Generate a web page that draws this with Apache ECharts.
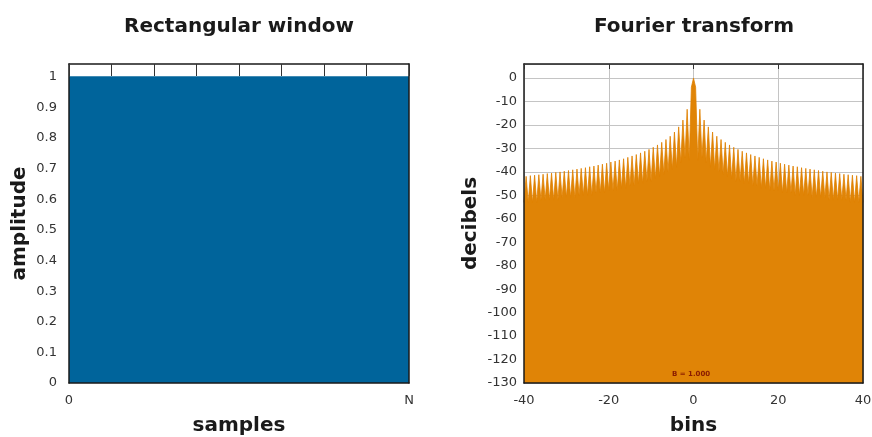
<!DOCTYPE html>
<html>
<head>
<meta charset="utf-8">
<script src="https://cdn.jsdelivr.net/npm/echarts@6/dist/echarts.min.js"></script>
<style>html,body{margin:0;padding:0;background:#fff}#c{width:872px;height:437px}</style>
</head>
<body>
<div id="c"></div>
<script>
// ---- Data ----
const windowTitle = 'Rectangular window';
const fourierTitle = 'Fourier transform';
const sampleX = [0, 1, 2, 3, 4, 5, 6, 7, 8];          // 0 .. N
const windowAmplitude = [1, 1, 1, 1, 1, 1, 1, 1, 1];
const sampleTickLabels = { 0: '0', 8: 'N' };

// main lobe (bins -0.5, 0, 0.5)
const mainLobeBins = [-0.5, 0, 0.5];
const mainLobeDb = [-3.9, 0, -3.9];
// sidelobe peaks at bins 1.5, 2.5, ... 39.5 (dB)
const sidelobePeakDb = [-13.3,-17.9,-20.8,-23.0,-24.8,-26.2,-27.4,-28.5,-29.5,-30.4,
  -31.2,-31.9,-32.6,-33.2,-33.8,-34.4,-34.9,-35.4,-35.8,-36.3,
  -36.7,-37.1,-37.5,-37.8,-38.2,-38.5,-38.8,-39.1,-39.4,-39.7,
  -40.0,-40.2,-40.5,-40.7,-41.0,-41.2,-41.4,-41.6,-41.9];
// visible dips between lobes at bins 1, 2, ... 40 (dB)
const sidelobeDipDb = [-35,-34,-36,-38,-39,-40,-41,-42,-43,-44,
  -44,-45,-45,-46,-46,-47,-47,-48,-48,-48,
  -49,-49,-49,-50,-50,-50,-50,-51,-51,-51,
  -51,-52,-52,-52,-52,-52,-53,-53,-53,-53];
const binTicks = [-40, -20, 0, 20, 40];
const dbTicks = [0,-10,-20,-30,-40,-50,-60,-70,-80,-90,-100,-110,-120,-130];

// ---- Build spectrum table (positive side, mirrored for negative bins) ----
const pos = [];
for (let i = 0; i < sidelobeDipDb.length; i++) {
  pos.push([i + 1, sidelobeDipDb[i]]);
  if (i < sidelobePeakDb.length) pos.push([i + 1.5, sidelobePeakDb[i]]);
}
const neg = pos.slice().reverse().map(p => [-p[0], p[1]]);
const spectrum = neg.concat(mainLobeBins.map((b, i) => [b, mainLobeDb[i]]), pos);

const FONT = 'DejaVu Sans';
const ink = '#1a1a1a';
const lbl = { fontFamily: FONT, fontSize: 13, color: '#333' };
const nameStyle = { fontFamily: FONT, fontSize: 20, fontWeight: 'bold', color: ink };
const border = { show: true, onZero: false, lineStyle: { color: ink, width: 1.5 } };
const noLine = { show: false, onZero: false };

const chart = echarts.init(document.getElementById('c'), null, { renderer: 'canvas' });
chart.setOption({
  animation: false,
  backgroundColor: '#fff',
  title: [
    { text: windowTitle, left: 239, top: 17, padding: 0, textAlign: 'center',
      textStyle: { fontFamily: FONT, fontSize: 20, fontWeight: 'bold', color: ink } },
    { text: fourierTitle, left: 694, top: 17, padding: 0, textAlign: 'center',
      textStyle: { fontFamily: FONT, fontSize: 20, fontWeight: 'bold', color: ink } }
  ],
  grid: [
    { left: 69, top: 64, width: 340, height: 319, containLabel: false, outerBoundsMode: 'none' },
    { left: 524, top: 64, width: 339, height: 319, containLabel: false, outerBoundsMode: 'none' }
  ],
  xAxis: [
    { type: 'value', gridIndex: 0, position: 'bottom', min: 0, max: 8, interval: 8, z: 5,
      axisLine: border, axisTick: { show: false }, splitLine: { show: false },
      axisLabel: Object.assign({ margin: 11, formatter: v => sampleTickLabels[v] ?? '' }, lbl),
      name: 'samples', nameLocation: 'middle', nameGap: 33, nameTextStyle: nameStyle },
    { type: 'value', gridIndex: 0, position: 'top', min: 0, max: 8, interval: 1, z: 5,
      axisLine: border, axisTick: { show: true, inside: true, length: 12, lineStyle: { color: '#333', width: 1 } },
      axisLabel: { show: false }, splitLine: { show: false } },
    { type: 'value', gridIndex: 1, position: 'bottom', min: -40, max: 40, interval: 20, z: 0,
      axisLine: noLine, axisTick: { show: false }, axisLabel: { show: false },
      splitLine: { show: true, lineStyle: { color: '#c4c4c4', width: 1 } } },
    { type: 'value', gridIndex: 1, position: 'bottom', min: -40, max: 40, interval: 20, z: 5,
      axisLine: border, axisTick: { show: false }, splitLine: { show: false },
      axisLabel: Object.assign({ margin: 11, formatter: v => binTicks.includes(v) ? String(v) : '' }, lbl),
      name: 'bins', nameLocation: 'middle', nameGap: 33, nameTextStyle: nameStyle },
    { type: 'value', gridIndex: 1, position: 'top', min: -40, max: 40, interval: 20, z: 5,
      axisLine: border, axisTick: { show: true, inside: true, length: 5, lineStyle: { color: '#333' } },
      axisLabel: { show: false }, splitLine: { show: false } }
  ],
  yAxis: [
    { type: 'value', gridIndex: 0, position: 'left', min: 0, max: 1.042, interval: 0.1, z: 5,
      axisLine: border, axisTick: { show: false }, splitLine: { show: false },
      axisLabel: Object.assign({ margin: 12, showMaxLabel: false,
        formatter: v => v > 1.001 ? '' : String(Math.round(v * 10) / 10) }, lbl),
      name: 'amplitude', nameLocation: 'middle', nameGap: 39, nameTextStyle: nameStyle },
    { type: 'value', gridIndex: 0, position: 'right', min: 0, max: 1.042, z: 5,
      axisLine: border, axisTick: { show: false }, axisLabel: { show: false }, splitLine: { show: false } },
    { type: 'value', gridIndex: 1, position: 'left', min: -130, max: 6, interval: 10, z: 0,
      axisLine: noLine, axisTick: { show: false }, axisLabel: { show: false },
      splitLine: { show: true, lineStyle: { color: '#c4c4c4', width: 1 } } },
    { type: 'value', gridIndex: 1, position: 'left', min: -130, max: 6, interval: 10, z: 5,
      axisLine: border, axisTick: { show: false }, splitLine: { show: false },
      axisLabel: Object.assign({ margin: 7, showMaxLabel: false,
        formatter: v => dbTicks.includes(v) ? String(v) : '' }, lbl),
      name: 'decibels', nameLocation: 'middle', nameGap: 43, nameTextStyle: nameStyle },
    { type: 'value', gridIndex: 1, position: 'right', min: -130, max: 6, z: 5,
      axisLine: border, axisTick: { show: false }, axisLabel: { show: false }, splitLine: { show: false } }
  ],
  series: [
    { type: 'line', xAxisIndex: 0, yAxisIndex: 0, symbol: 'none', z: 2,
      data: sampleX.map((x, i) => [x, windowAmplitude[i]]),
      lineStyle: { color: '#00649b', width: 1 },
      areaStyle: { color: '#00649b', opacity: 1, origin: 'start' } },
    { type: 'line', xAxisIndex: 3, yAxisIndex: 3, symbol: 'none', z: 2, clip: true,
      data: spectrum,
      lineStyle: { color: '#e08000', width: 0.8 },
      areaStyle: { color: '#e08406', opacity: 1, origin: 'start' } }
  ],
  graphic: [
    { type: 'text', left: 672, top: 371, z: 10,
      style: { text: 'B = 1.000', fontFamily: FONT, fontSize: 7, fontWeight: 'bold', fill: '#8a1c00' } }
  ]
});
</script>
</body>
</html>
